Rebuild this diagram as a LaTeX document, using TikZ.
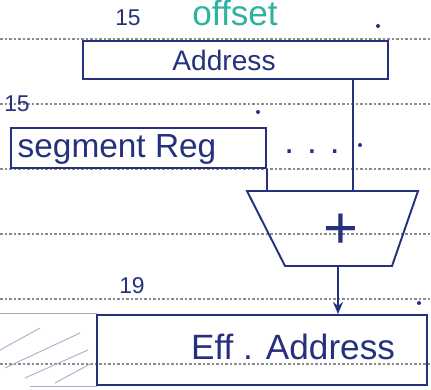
\documentclass[tikz,border=0pt]{standalone}
\usepackage{fontspec}
\setmainfont{Liberation Sans}
\usetikzlibrary{arrows.meta, positioning, calc}
\definecolor{cink}{HTML}{26317E}
\definecolor{cteal}{HTML}{2DB39F}
\definecolor{crule}{HTML}{8C8C8C}
\definecolor{cfaint}{HTML}{A4AECB}
\tikzset{
  every picture/.style={line width=1.1pt},
  regbox/.style={draw=cink, inner sep=0pt},
  wire/.style={draw=cink, line width=1.1pt},
  hand/.style={text=cink, inner sep=1pt, font=\fontsize{#1}{#1}\selectfont},
  hand/.default=16,
  ruled/.style={draw=crule, line width=0.7pt, dash pattern=on 0.55mm off 0.35mm},
  faint/.style={draw=cfaint, line width=0.5pt},
  tick/.style={fill=cink},
}
\begin{document}
\begin{tikzpicture}[x=0.2mm, y=-0.2mm]
  \useasboundingbox[fill=white] (0,0) rectangle (431,389);
  % ruled paper
  \foreach \y in {39,104,169,234,299,364}
    \draw[ruled] (0,\y) -- (431,\y);
  % faint strokes bottom left
  \draw[faint] (0,313) -- (97,313);
  \draw[faint] (0,350) -- (40,328);
  \draw[faint] (5,368) -- (80,333);
  \draw[faint] (25,378) -- (88,350);
  \draw[faint] (55,383) -- (92,363);
  \draw[faint] (30,386) -- (97,386);
  % offset register
  \node[regbox, minimum width=61mm, minimum height=7.6mm] (addr) at (235.5,60) {};
  \node[hand] (addrtxt) at (224,60) {Address};
  \node[hand=13] (addrhi) at (128,18) {15};
  \node[hand=20, text=cteal] (offs) at (235,13) {offset};
  \fill[tick] (378,26) circle[radius=0.4mm];
  % segment register
  \node[regbox, minimum width=51mm, minimum height=8mm] (seg) at (138.5,148) {};
  \node[hand=19] (segtxt) at (117,149) {segment Reg};
  \node[hand=13] (seghi) at (17,104) {15};
  \fill[tick] (258,112) circle[radius=0.4mm];
  \node[hand=20, anchor=base] (segdots) at (312,153) {. . .};
  \fill[tick] (360,145) circle[radius=0.4mm];
  % adder
  \coordinate (addTL) at (247,191);
  \coordinate (addTR) at (418,191);
  \coordinate (addBR) at (392,266);
  \coordinate (addBL) at (285,266);
  \draw[wire] (addTL) -- (addTR) -- (addBR) -- (addBL) -- cycle;
  \node[hand=34] (plus) at (341,231) {+};
  \coordinate (addin) at (353,191);
  \coordinate (addout) at (338,266);
  \draw[wire] (addin |- addr.south) -- (addin);
  \draw[wire] (seg.south east) -- (seg.south east |- addTL);
  % effective address
  \node[regbox, minimum width=66mm, minimum height=14mm] (eff) at (262,350) {};
  \node[hand=20] (efftxt) at (293,347) {Eff . Address};
  \node[hand=13] (effhi) at (132,286) {19};
  \fill[tick] (419,303) circle[radius=0.4mm];
  \draw[wire, -{Stealth[length=2.4mm, width=2mm]}] (addout) -- (addout |- eff.north);
\end{tikzpicture}
\end{document}
